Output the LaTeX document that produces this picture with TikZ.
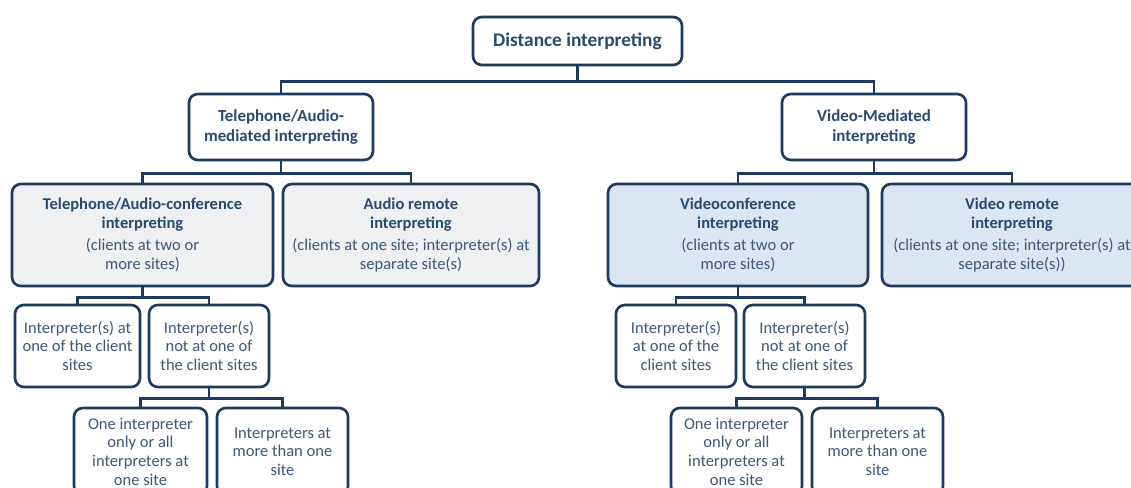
\documentclass[tikz,border=0pt]{standalone}
\usepackage{fontspec}
\setmainfont{Carlito}
\definecolor{navy}{HTML}{1F3A5F}
\definecolor{inktext}{HTML}{3E5877}
\definecolor{inkhead}{HTML}{2A4A70}
\definecolor{palegrey}{HTML}{EFF0F2}
\definecolor{paleblue}{HTML}{DCE6F2}
\usetikzlibrary{positioning}

\begin{document}
\begin{tikzpicture}[
    x=1cm,y=1cm,
    every node/.style={font=\fontsize{9.4}{10.6}\selectfont, text=inktext},
    frame/.style={draw=navy, rounded corners=5pt, line width=1.5pt, fill=white, align=center, inner sep=2pt},
    head/.style={frame, text=inkhead, font=\fontsize{9.6}{11.4}\selectfont\bfseries},
    greybox/.style={frame, fill=palegrey},
    bluebox/.style={frame, fill=paleblue},
    link/.style={draw=navy, line width=1.5pt}
]
    \clip (0,0) rectangle (22.62,-9.76);
    \fill[white] (0,0) rectangle (22.62,-9.76);

    \node[head, font=\fontsize{11}{13}\selectfont\bfseries, minimum width=4.18cm, minimum height=0.96cm] (dist) at (11.55,-0.82) {Distance interpreting};

    \node[head, minimum width=3.68cm, minimum height=1.32cm] (telau) at (5.62,-2.54) {Telephone/Audio-\\mediated interpreting};
    \node[head, minimum width=3.68cm, minimum height=1.32cm] (vidmed) at (17.48,-2.54) {Video-Mediated\\interpreting};

    \node[greybox, minimum width=5.22cm, minimum height=2.04cm] (telconf) at (2.85,-4.70)
        {\textcolor{inkhead}{\bfseries Telephone/Audio-conference}\\\textcolor{inkhead}{\bfseries interpreting}\\[2pt](clients at two or\\more sites)};
    \node[greybox, minimum width=5.12cm, minimum height=2.04cm] (audrem) at (8.22,-4.70)
        {\textcolor{inkhead}{\bfseries Audio remote}\\\textcolor{inkhead}{\bfseries interpreting}\\[2pt](clients at one site; interpreter(s) at\\separate site(s)};
    \node[bluebox, minimum width=5.20cm, minimum height=2.04cm] (vidconf) at (14.76,-4.70)
        {\textcolor{inkhead}{\bfseries Videoconference}\\\textcolor{inkhead}{\bfseries interpreting}\\[2pt](clients at two or\\more sites)};
    \node[bluebox, minimum width=5.20cm, minimum height=2.04cm] (vidrem) at (20.24,-4.70)
        {\textcolor{inkhead}{\bfseries Video remote}\\\textcolor{inkhead}{\bfseries interpreting}\\[2pt](clients at one site; interpreter(s) at\\separate site(s))};

    \node[frame, minimum width=2.50cm, minimum height=1.64cm] (aton) at (1.55,-6.92) {Interpreter(s) at\\one of the client\\sites};
    \node[frame, minimum width=2.40cm, minimum height=1.64cm] (notat) at (4.18,-6.92) {Interpreter(s)\\not at one of\\the client sites};
    \node[frame, minimum width=2.40cm, minimum height=1.64cm] (vaton) at (13.52,-6.92) {Interpreter(s)\\at one of the\\client sites};
    \node[frame, minimum width=2.42cm, minimum height=1.64cm] (vnotat) at (16.09,-6.92) {Interpreter(s)\\not at one of\\the client sites};

    \node[frame, minimum width=2.66cm, minimum height=1.74cm] (onesite) at (2.81,-9.03) {One interpreter\\only or all\\interpreters at\\one site};
    \node[frame, minimum width=2.62cm, minimum height=1.74cm] (moresite) at (5.65,-9.03) {Interpreters at\\more than one\\site};
    \node[frame, minimum width=2.62cm, minimum height=1.74cm] (vonesite) at (14.73,-9.03) {One interpreter\\only or all\\interpreters at\\one site};
    \node[frame, minimum width=2.62cm, minimum height=1.74cm] (vmoresite) at (17.55,-9.03) {Interpreters at\\more than one\\site};

    \foreach \p/\c/\d in {dist/telau/0.30, dist/vidmed/0.30,
                          telau/telconf/0.24, telau/audrem/0.24,
                          vidmed/vidconf/0.24, vidmed/vidrem/0.24,
                          telconf/aton/0.20, telconf/notat/0.20,
                          vidconf/vaton/0.20, vidconf/vnotat/0.20,
                          notat/onesite/0.20, notat/moresite/0.20,
                          vnotat/vonesite/0.20, vnotat/vmoresite/0.20} {
        \draw[link] (\p.south) -- ++(0,-\d) -| (\c.north);
    }
\end{tikzpicture}
\end{document}
